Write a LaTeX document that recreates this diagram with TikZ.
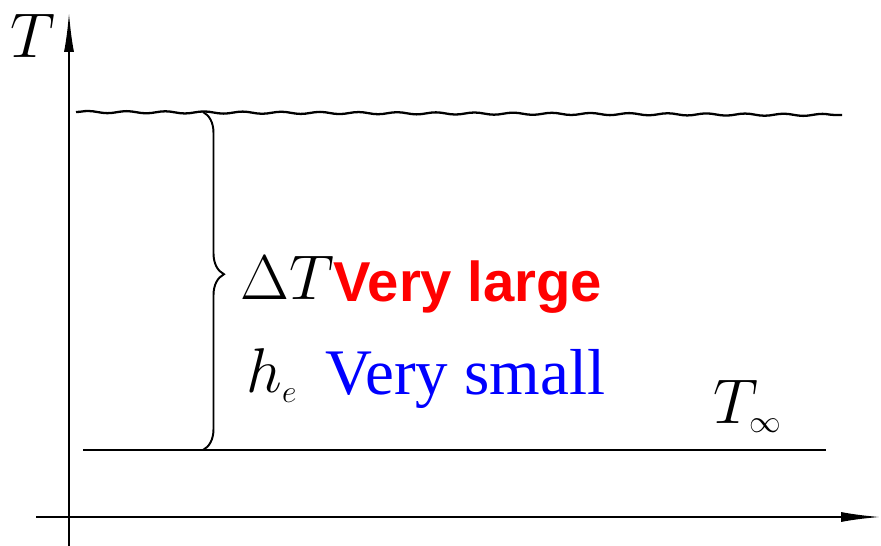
\RequirePackage{fix-cm}
\documentclass[tikz,border=0pt]{standalone}
\usepackage{fontspec}
\usepackage{xcolor}
\usetikzlibrary{arrows.meta,decorations.pathreplacing,decorations.pathmorphing}
\newfontfamily\arialbold{Liberation Sans}[BoldFont={* Bold}]
\newfontfamily\timesfont{Liberation Serif}
\definecolor{hotred}{HTML}{FF0000}
\definecolor{inkblue}{HTML}{0000FF}

\begin{document}
\begin{tikzpicture}[
    x=0.02cm, y=-0.02cm,
    axis/.style={line width=1.3pt, -{Latex[length=0.8cm,width=0.2cm]}},
    level/.style={line width=1.3pt},
    sym/.style={anchor=base west, inner sep=0pt, font=\fontsize{36}{40}\selectfont},
    note/.style={anchor=base west, inner sep=0pt}
]
  \useasboundingbox (0,0) rectangle (881,546);

  % axes
  \coordinate (yfoot) at (69,546);
  \coordinate (ytip)  at (69,12);
  \coordinate (xfoot) at (36,517);
  \coordinate (xtip)  at (881,517);
  \draw[axis] (yfoot) -- (ytip);
  \draw[axis] (xfoot) -- (xtip);

  % surface level (wavy) and ambient level
  \coordinate (topL) at (76,112);
  \coordinate (topR) at (842,115);
  \coordinate (botL) at (83,450);
  \coordinate (botR) at (826,450);
  \draw[level, decorate, decoration={snake, amplitude=0.6pt, segment length=22pt}] (topL) -- (topR);
  \draw[level] (botL) -- (botR);

  % brace between the two levels
  \coordinate (braceT) at (203,112);
  \coordinate (braceB) at (203,450);
  \draw[line width=1.1pt, decorate, decoration={brace, amplitude=0.42cm, aspect=0.48}] (braceT) -- (braceB);

  % labels
  \node[sym] (tlab) at (10,58) {$T$};
  \node[sym] (dlab) at (240,300) {$\Delta T$};
  \node[note, font=\arialbold\bfseries\fontsize{32}{36}\selectfont, text=hotred] (large) at (333,302) {Very large};
  \node[sym] (hlab) at (246,393) {$h_{\scriptscriptstyle e}$};
  \node[note, font=\timesfont\fontsize{37}{40}\selectfont, text=inkblue] (small) at (325,395) {Very small};
  \node[sym] (tinf) at (713,423) {$T_{\scriptscriptstyle\infty}$};
\end{tikzpicture}
\end{document}
